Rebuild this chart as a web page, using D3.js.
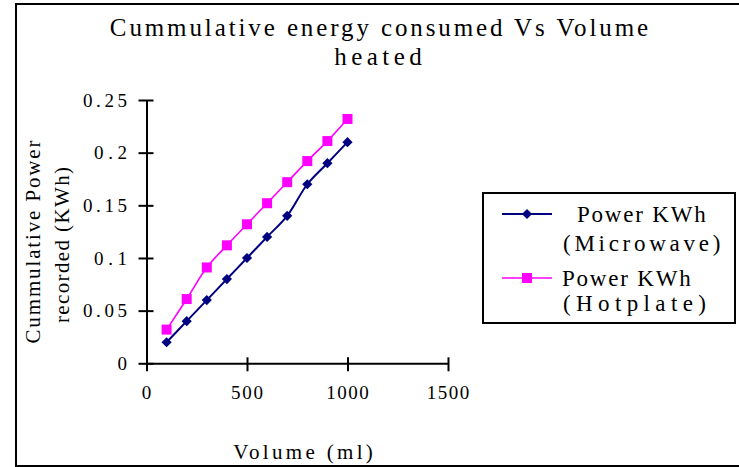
<!DOCTYPE html>
<html lang="en">
<head>
    <meta charset="UTF-8">
    <title>Cummulative energy consumed Vs Volume heated</title>
    <script src="https://cdn.jsdelivr.net/npm/d3@7"></script>
    <style>
        body { margin: 0; background: #fff; }
        svg { display: block; }
        text { font-family: "Liberation Serif", "DejaVu Serif", serif; fill: #000; }
    </style>
</head>
<body>
    <svg width="739" height="467"></svg>
    <script>
        // chart data
        const volumes = [100, 200, 300, 400, 500, 600, 700, 800, 900, 1000];
        const microwave = [0.02, 0.04, 0.06, 0.08, 0.10, 0.12, 0.14, 0.17, 0.19, 0.21];
        const hotplate = [0.032, 0.061, 0.091, 0.112, 0.132, 0.152, 0.172, 0.192, 0.211, 0.232];
        const xTicks = [0, 500, 1000, 1500];
        const yTicks = [0, 0.05, 0.1, 0.15, 0.2, 0.25];
        const yTickLabels = ["0", "0.05", "0.1", "0.15", "0.2", "0.25"];

        const svg = d3.select("svg");

        // the original font is a fixed-pitch one, so stretch each string to its cell width
        function mono(sel, str, cell) {
            sel.text(str)
                .attr("textLength", str.length * cell)
                .attr("lengthAdjust", "spacing");
            return sel;
        }

        // outer frame (right edge runs off the picture)
        svg.append("rect")
            .attr("x", 16).attr("y", 4)
            .attr("width", 760).attr("height", 462)
            .attr("fill", "none").attr("stroke", "#000").attr("stroke-width", 2);

        const x = d3.scaleLinear().domain([0, 1500]).range([146.5, 448]);
        const y = d3.scaleLinear().domain([0, 0.25]).range([363.3, 100]);

        // title
        mono(svg.append("text").attr("x", 379).attr("y", 36)
            .attr("text-anchor", "middle").style("font-size", "25px"),
            "Cummulative energy consumed Vs Volume", 14.55);
        mono(svg.append("text").attr("x", 378).attr("y", 65)
            .attr("text-anchor", "middle").style("font-size", "25px"),
            "heated", 14.55);

        // y axis
        const yAxis = svg.append("g").attr("transform", `translate(${x(0)},0)`)
            .call(d3.axisLeft(y).tickValues(yTicks).tickSize(0).tickFormat(""));
        yAxis.select(".domain").attr("stroke", "#000").attr("stroke-width", 2);
        yAxis.selectAll(".tick").append("line")
            .attr("x1", -8).attr("x2", 7)
            .attr("stroke", "#000").attr("stroke-width", 2);
        yTicks.forEach((d, i) => {
            mono(svg.append("text")
                .attr("x", 127).attr("y", y(d)).attr("dy", "0.35em")
                .attr("text-anchor", "end").style("font-size", "19px"),
                yTickLabels[i], 11);
        });

        // x axis
        const xAxis = svg.append("g").attr("transform", `translate(0,${y(0)})`)
            .call(d3.axisBottom(x).tickValues(xTicks).tickSize(0).tickFormat(""));
        xAxis.select(".domain").attr("stroke", "#000").attr("stroke-width", 2);
        xAxis.selectAll(".tick").append("line")
            .attr("y1", -6).attr("y2", 8)
            .attr("stroke", "#000").attr("stroke-width", 2);
        xTicks.forEach(d => {
            mono(svg.append("text")
                .attr("x", x(d)).attr("y", 399)
                .attr("text-anchor", "middle").style("font-size", "19px"),
                String(d), 10.6);
        });

        // axis titles
        mono(svg.append("text").attr("x", 303).attr("y", 459)
            .attr("text-anchor", "middle").style("font-size", "21px"),
            "Volume (ml)", 12.7);
        const yTitle = svg.append("g").attr("transform", "translate(0,242) rotate(-90)");
        mono(yTitle.append("text").attr("x", 0).attr("y", 40)
            .attr("text-anchor", "middle").style("font-size", "21px"),
            "Cummulative Power", 11.95);
        mono(yTitle.append("text").attr("x", -3).attr("y", 69)
            .attr("text-anchor", "middle").style("font-size", "21px"),
            "recorded (KWh)", 11.15);

        // lines
        const line = d3.line()
            .x(d => x(d[0]))
            .y(d => y(d[1]))
            .curve(d3.curveCatmullRom);

        const series = [
            { name: "mw", values: microwave, color: "#000080", width: 2, rot: 45, size: 52 },
            { name: "hp", values: hotplate, color: "#FF00FF", width: 1.6, rot: 0, size: 100 }
        ];

        series.forEach(s => {
            const pts = volumes.map((v, i) => [v, s.values[i]]);
            svg.append("path")
                .datum(pts)
                .attr("d", line)
                .attr("fill", "none")
                .attr("stroke", s.color)
                .attr("stroke-width", s.width);
            svg.selectAll(".pt-" + s.name).data(pts).enter().append("path")
                .attr("transform", d => `translate(${x(d[0])},${y(d[1])}) rotate(${s.rot})`)
                .attr("d", d3.symbol().type(d3.symbolSquare).size(s.size))
                .attr("fill", s.color);
        });

        // legend
        svg.append("rect")
            .attr("x", 483).attr("y", 193)
            .attr("width", 252).attr("height", 130)
            .attr("fill", "#fff").attr("stroke", "#000").attr("stroke-width", 2);

        const legendRows = [
            { s: series[0], ly: 214, lines: [[577, 222, "Power KWh"], [563, 251, "(Microwave)"]] },
            { s: series[1], ly: 278, lines: [[562, 286, "Power KWh"], [563, 311, "(Hotplate)"]] }
        ];
        legendRows.forEach(r => {
            svg.append("line")
                .attr("x1", 502).attr("x2", 552)
                .attr("y1", r.ly).attr("y2", r.ly)
                .attr("stroke", r.s.color).attr("stroke-width", r.s.width);
            svg.append("path")
                .attr("transform", `translate(527,${r.ly}) rotate(${r.s.rot})`)
                .attr("d", d3.symbol().type(d3.symbolSquare).size(r.s.size))
                .attr("fill", r.s.color);
            r.lines.forEach(t => {
                mono(svg.append("text")
                    .attr("x", t[0]).attr("y", t[1])
                    .style("font-size", "23px"),
                    t[2], 14.3);
            });
        });
    </script>
</body>
</html>
